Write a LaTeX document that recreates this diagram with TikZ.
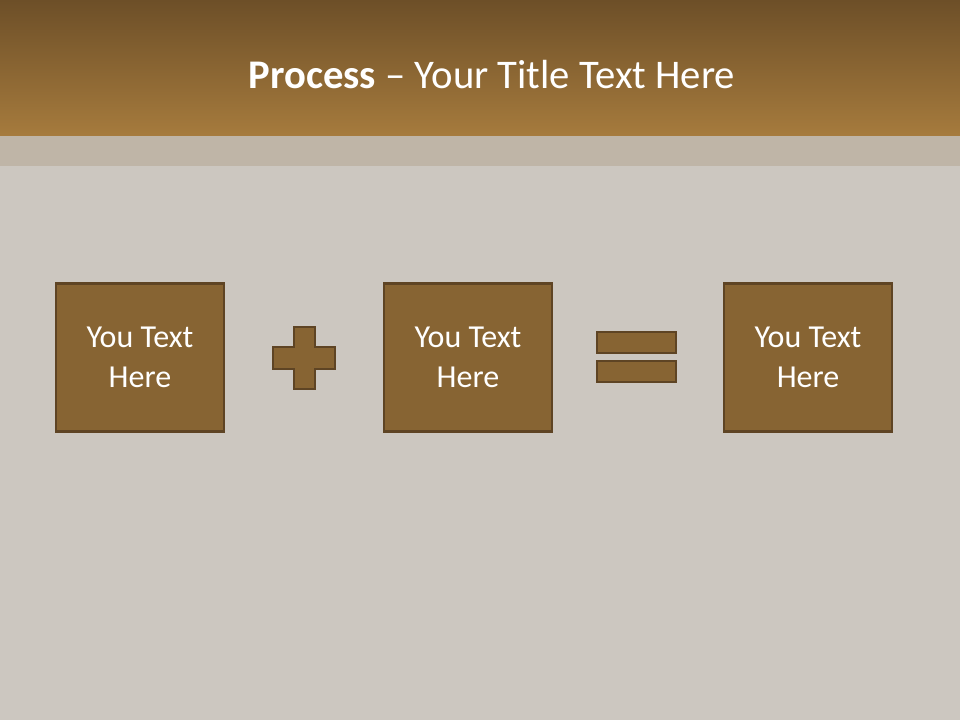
\documentclass[tikz,border=0pt]{standalone}
\usepackage{fontspec}
\setmainfont{Carlito}
\definecolor{headtop}{HTML}{6D4F28}
\definecolor{headbot}{HTML}{A67B3D}
\definecolor{backdrop}{HTML}{CCC7C0}
\definecolor{bandcol}{HTML}{BFB5A7}
\definecolor{boxfill}{HTML}{876433}
\definecolor{boxline}{HTML}{5E4424}
\begin{document}
\begin{tikzpicture}[
      x=0.75pt, y=-0.75pt,
      box/.style={draw=boxline, fill=boxfill, line width=2.2pt,
        minimum width=126pt, minimum height=111pt, inner sep=0pt,
        text=white, align=center, font=\fontsize{24}{30}\selectfont},
      sign/.style={draw=boxline, fill=boxfill, line width=2.2pt}
    ]
    % backdrop
    \fill[backdrop] (0,0) rectangle (960,720);
    \fill[bandcol] (0,136) rectangle (960,166);
    \shade[top color=headtop, bottom color=headbot] (0,0) rectangle (960,136);
    \node (title) [text=white, font=\fontsize{30.5}{36}\selectfont] at (492,75)
      {\textbf{Process} -- Your Title Text Here};
    % the three boxes
    \node (first) [box] at (140,357.5) {You Text\\Here};
    \node (second) [box] at (468,357.5) {You Text\\Here};
    \node (third) [box] at (808,357.5) {You Text\\Here};
    % plus
    \draw[sign] (294,327) -- (315,327) -- (315,347) -- (335,347) -- (335,369)
      -- (315,369) -- (315,389) -- (294,389) -- (294,369) -- (273,369)
      -- (273,347) -- (294,347) -- cycle;
    % equals
    \draw[sign] (597,332) rectangle (676,353);
    \draw[sign] (597,361) rectangle (676,382);
\end{tikzpicture}
\end{document}
